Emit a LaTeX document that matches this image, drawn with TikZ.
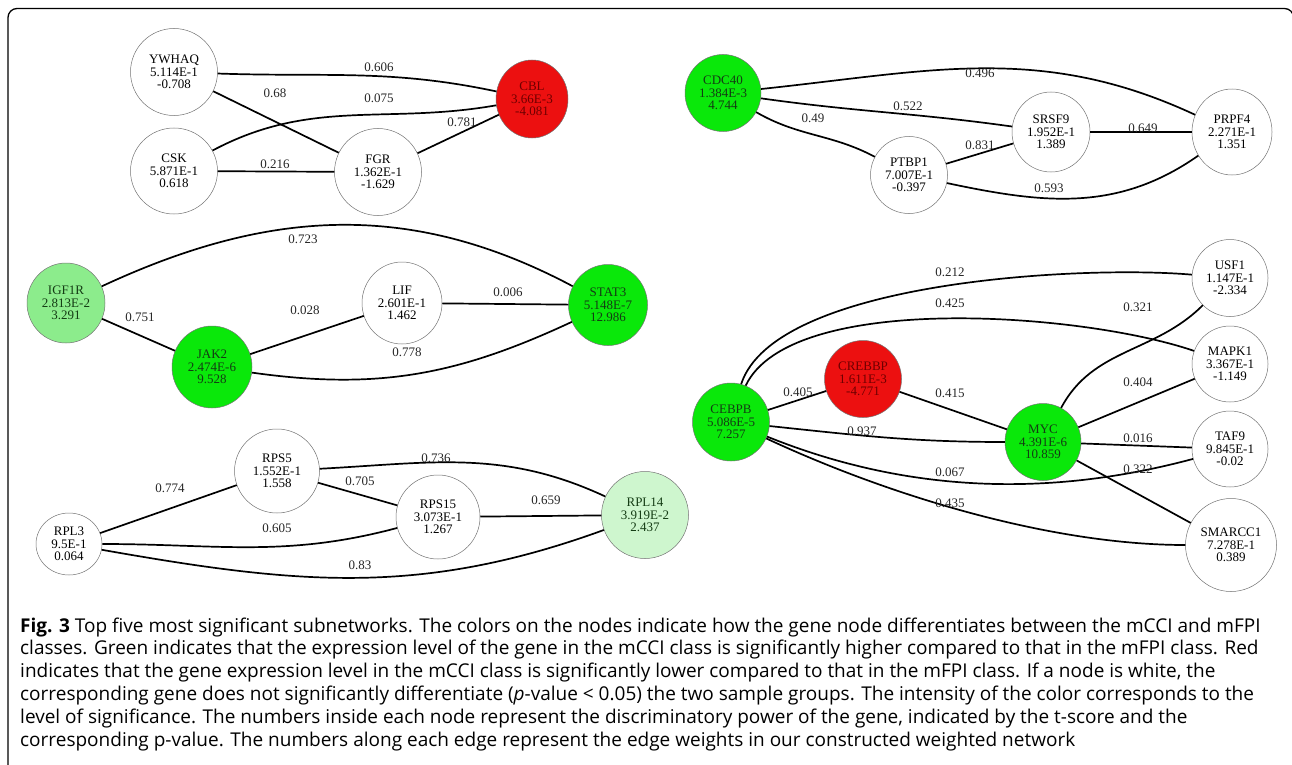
\documentclass[tikz,border=0pt]{standalone}
\usepackage{fontspec}
\setmainfont{Liberation Serif}
\newfontfamily\capfont{Open Sans}
\usetikzlibrary{shapes.geometric}

\definecolor{gbright}{RGB}{10,232,10}
\definecolor{glight}{RGB}{140,236,140}
\definecolor{gpale}{RGB}{206,246,206}
\definecolor{rbright}{RGB}{236,16,16}
\definecolor{gtext}{RGB}{20,60,20}
\definecolor{rtext}{RGB}{110,0,0}

\tikzset{
  gene/.style={ellipse, draw=black!55, line width=0.5pt, fill=white, align=center,
    font=\fontsize{13}{12.3}\selectfont, inner sep=0pt},
  gup/.style={fill=gbright, text=gtext},
  gupl/.style={fill=glight, text=gtext},
  gupp/.style={fill=gpale, text=gtext},
  rdown/.style={fill=rbright, text=rtext},
  conn/.style={line width=1.7pt, black},
  lbl/.style={font=\fontsize{13}{14}\selectfont, inner sep=0pt, text=black!85},
  capline/.style={font=\capfont\fontsize{19}{22.8}\selectfont, inner sep=0pt, anchor=base west}
}

\begin{document}
\begin{tikzpicture}[x=1pt,y=1pt]
\useasboundingbox (0,-765) rectangle (1292,0);
\draw[line width=1.3pt, rounded corners=9pt] (8,-770) -- (8,-8.5) -- (1293.5,-8.5) -- (1293.5,-770);

% ---------- subnetwork 1
\node[gene, minimum width=87pt, minimum height=87pt] (ywhaq) at (174,-72) {YWHAQ\\5.114E-1\\-0.708};
\node[gene, minimum width=87pt, minimum height=86pt] (csk) at (174,-171) {CSK\\5.871E-1\\0.618};
\node[gene, minimum width=87pt, minimum height=87pt] (fgr) at (378,-172) {FGR\\1.362E-1\\-1.629};
\node[gene, rdown, minimum width=72pt, minimum height=78pt] (cbl) at (532,-99) {CBL\\3.66E-3\\-4.081};

\draw[conn] (ywhaq) to[out=-2,in=168] (cbl);
\draw[conn] (ywhaq) -- (fgr);
\draw[conn] (csk) to[out=28,in=190] (cbl);
\draw[conn] (csk) -- (fgr);
\draw[conn] (fgr) -- (cbl);
\node[lbl] (l1a) at (379,-67) {0.606};
\node[lbl] (l1b) at (275,-93) {0.68};
\node[lbl] (l1c) at (379,-98) {0.075};
\node[lbl] (l1d) at (462,-122) {0.781};
\node[lbl] (l1e) at (275,-164) {0.216};

% ---------- subnetwork 2
\node[gene, gup, minimum width=76pt, minimum height=77pt] (cdc40) at (723,-93) {CDC40\\1.384E-3\\4.744};
\node[gene, minimum width=78pt, minimum height=80pt] (srsf9) at (1051,-132) {SRSF9\\1.952E-1\\1.389};
\node[gene, minimum width=77pt, minimum height=77pt] (ptbp1) at (909,-175) {PTBP1\\7.007E-1\\-0.397};
\node[gene, minimum width=80pt, minimum height=86pt] (prpf4) at (1232,-132) {PRPF4\\2.271E-1\\1.351};
\draw[conn] (cdc40) to[out=6,in=155] (prpf4);
\draw[conn] (cdc40) to[out=-8,in=172] (srsf9);
\draw[conn] (cdc40) to[out=-30,in=152] (ptbp1);
\draw[conn] (ptbp1) -- (srsf9);
\draw[conn] (srsf9) -- (prpf4);
\draw[conn] (ptbp1) to[out=-12,in=215] (prpf4);
\node[lbl] (l2a) at (980,-73) {0.496};
\node[lbl] (l2b) at (908,-106) {0.522};
\node[lbl] (l2c) at (813,-118) {0.49};
\node[lbl] (l2d) at (980,-145) {0.831};
\node[lbl] (l2e) at (1143,-128) {0.649};
\node[lbl] (l2f) at (1049,-188) {0.593};

% ---------- subnetwork 3
\node[gene, gupl, minimum width=78pt, minimum height=80pt] (igf1r) at (66,-303) {IGF1R\\2.813E-2\\3.291};
\node[gene, gup, minimum width=80pt, minimum height=82pt] (jak2) at (212,-367) {JAK2\\2.474E-6\\9.528};
\node[gene, minimum width=80pt, minimum height=82pt] (lif) at (402,-303) {LIF\\2.601E-1\\1.462};
\node[gene, gup, minimum width=79pt, minimum height=81pt] (stat3) at (608,-305) {STAT3\\5.148E-7\\12.986};
\draw[conn] (igf1r) to[out=25,in=152] (stat3);
\draw[conn] (igf1r) -- (jak2);
\draw[conn] (jak2) -- (lif);
\draw[conn] (lif) -- (stat3);
\draw[conn] (jak2) to[out=-8,in=205] (stat3);
\node[lbl] (l3a) at (303,-239) {0.723};
\node[lbl] (l3b) at (140,-317) {0.751};
\node[lbl] (l3c) at (305,-310) {0.028};
\node[lbl] (l3d) at (508,-292) {0.006};
\node[lbl] (l3e) at (407,-352) {0.778};

% ---------- subnetwork 4
\node[gene, minimum width=66pt, minimum height=62pt] (rpl3) at (69,-544) {RPL3\\9.5E-1\\0.064};
\node[gene, minimum width=85pt, minimum height=84pt] (rps5) at (277,-471) {RPS5\\1.552E-1\\1.558};
\node[gene, minimum width=84pt, minimum height=84pt] (rps15) at (438,-517) {RPS15\\3.073E-1\\1.267};
\node[gene, gupp, minimum width=87pt, minimum height=87pt] (rpl14) at (645,-515) {RPL14\\3.919E-2\\2.437};
\draw[conn] (rpl3) -- (rps5);
\draw[conn] (rps5) to[out=3,in=155] (rpl14);
\draw[conn] (rps5) -- (rps15);
\draw[conn] (rps15) -- (rpl14);
\draw[conn] (rpl3) to[out=0,in=195] (rps15);
\draw[conn] (rpl3) to[out=-10,in=200] (rpl14);
\node[lbl] (l4a) at (170,-488) {0.774};
\node[lbl] (l4b) at (436,-458) {0.736};
\node[lbl] (l4c) at (360,-481) {0.705};
\node[lbl] (l4d) at (546,-500) {0.659};
\node[lbl] (l4e) at (277,-528) {0.605};
\node[lbl] (l4f) at (360,-565) {0.83};

% ---------- subnetwork 5
\node[gene, gup, minimum width=77pt, minimum height=78pt] (cebpb) at (731,-422) {CEBPB\\5.086E-5\\7.257};
\node[gene, rdown, minimum width=77pt, minimum height=77pt] (crebbp) at (863,-379) {CREBBP\\1.611E-3\\-4.771};
\node[gene, gup, minimum width=76pt, minimum height=77pt] (myc) at (1043,-442) {MYC\\4.391E-6\\10.859};
\node[gene, minimum width=76pt, minimum height=77pt] (usf1) at (1230,-278) {USF1\\1.147E-1\\-2.334};
\node[gene, minimum width=76pt, minimum height=76pt] (mapk1) at (1230,-364) {MAPK1\\3.367E-1\\-1.149};
\node[gene, minimum width=76pt, minimum height=76pt] (taf9) at (1230,-449) {TAF9\\9.845E-1\\-0.02};
\node[gene, minimum width=91pt, minimum height=93pt] (smarcc1) at (1231,-545) {SMARCC1\\7.278E-1\\0.389};
\draw[conn] (cebpb.75) to[out=72,in=175,looseness=0.6] (usf1);
\draw[conn] (cebpb.68) .. controls +(45,95) and +(-110,38) .. (mapk1.160);
\draw[conn] (cebpb) -- (crebbp);
\draw[conn] (crebbp) -- (myc);
\draw[conn] (cebpb) to[out=-6,in=180] (myc);
\draw[conn] (cebpb) to[out=-22,in=195,looseness=0.9] (taf9);
\draw[conn] (cebpb) to[out=-25,in=180,looseness=0.8] (smarcc1);
\draw[conn] (myc) to[out=62,in=225] (usf1);
\draw[conn] (myc) -- (mapk1);
\draw[conn] (myc) -- (taf9);
\draw[conn] (myc) -- (smarcc1);
\node[lbl] (l5a) at (950,-272) {0.212};
\node[lbl] (l5b) at (950,-303) {0.425};
\node[lbl] (l5c) at (1138,-307) {0.321};
\node[lbl] (l5d) at (798,-392) {0.405};
\node[lbl] (l5e) at (950,-393) {0.415};
\node[lbl] (l5f) at (1138,-382) {0.404};
\node[lbl] (l5g) at (862,-431) {0.937};
\node[lbl] (l5h) at (1138,-438) {0.016};
\node[lbl] (l5i) at (950,-472) {0.067};
\node[lbl] (l5j) at (1138,-469) {0.322};
\node[lbl] (l5k) at (950,-503) {0.435};

% ---------- caption
\node[capline] (cap1) at (20,-632) {\textbf{Fig. 3} Top five most significant subnetworks. The colors on the nodes indicate how the gene node differentiates between the mCCI and mFPI};
\node[capline] (cap2) at (20,-654.8) {classes. Green indicates that the expression level of the gene in the mCCI class is significantly higher compared to that in the mFPI class. Red};
\node[capline] (cap3) at (20,-677.6) {indicates that the gene expression level in the mCCI class is significantly lower compared to that in the mFPI class. If a node is white, the};
\node[capline] (cap4) at (20,-700.4) {corresponding gene does not significantly differentiate (\textit{p}-value < 0.05) the two sample groups. The intensity of the color corresponds to the};
\node[capline] (cap5) at (20,-723.2) {level of significance. The numbers inside each node represent the discriminatory power of the gene, indicated by the t-score and the};
\node[capline] (cap6) at (20,-746) {corresponding p-value. The numbers along each edge represent the edge weights in our constructed weighted network};
\end{tikzpicture}
\end{document}
